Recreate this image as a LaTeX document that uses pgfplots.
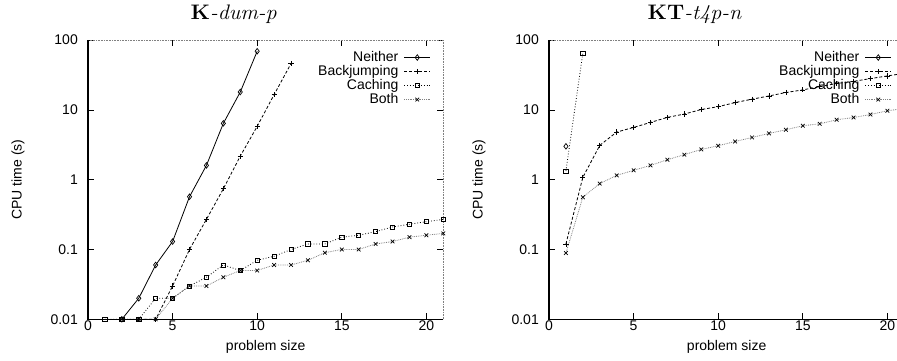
\documentclass[border=0pt]{standalone}
\usepackage{fontspec}
\setsansfont{Liberation Sans}
\usepackage{graphicx}
\usepackage{pgfplots}
\pgfplotsset{compat=1.18}
\pgfplotsset{
  legend image code/.code={\draw[mark repeat=2,mark phase=2,#1] plot coordinates {(0pt,0pt) (13pt,0pt) (26pt,0pt)};},
  pNeither/.style={black, solid, line width=0.8pt, mark=diamond, mark size=2.8pt, mark options={solid, line width=0.7pt}},
  pBackj/.style={black, densely dashed, line width=0.8pt, mark=+, mark size=2.6pt, mark options={solid, line width=0.7pt}},
  pCaching/.style={black, dotted, line width=0.8pt, mark=square, mark size=2.1pt, mark options={solid, line width=0.7pt}},
  pBoth/.style={gray, densely dotted, line width=0.8pt, mark=x, mark size=2.6pt, mark options={solid, black, line width=0.7pt}},
}
\newcommand{\gpframe}{%
  \draw[gray, densely dotted, line width=0.6pt] (rel axis cs:0,1) -- (rel axis cs:1,1) -- (rel axis cs:1,0);
  \draw[black, line width=1.3pt] (rel axis cs:0,1) -- (rel axis cs:0,0) -- (rel axis cs:1,0);
}
\begin{document}
\begin{tikzpicture}
\begin{axis}[at={(88pt,41.7pt)}, anchor=south west,
    scale only axis, width=355.3pt, height=279.3pt,
    ymode=log, log basis y=10,
    xmin=0, xmax=21, ymin=0.01, ymax=100,
    xtick={0,5,10,15,20},
    ytick={0.01,0.1,1,10,100},
    yticklabels={0.01,0.1,1,10,100},
    font=\fontsize{14}{16}\selectfont\sffamily,
    tick align=inside,
    major tick length=6pt, minor tick length=3pt,
    every tick/.style={black, line width=0.6pt},
    xticklabel style={inner sep=1.5pt, /pgf/number format/assume math mode=true},
    yticklabel style={inner sep=0pt, xshift=-10pt},
    axis line style={draw=none},
    clip=false,
    xlabel={problem size}, ylabel={CPU time (s)},
    xlabel style={at={(axis description cs:0.5,-0.099)}, anchor=center},
    ylabel style={at={(axis description cs:-0.197,0.5)}, anchor=center, rotate=0},
    title style={at={(axis description cs:0.41,1.0537)}, anchor=base, font=\rmfamily\fontsize{21}{23}\selectfont},
    legend plot pos=right,
    legend cell align=right,
    legend style={at={(axis description cs:0.965,0.963)}, anchor=north east, draw=none, fill=none,
      inner sep=0pt, column sep=5pt, row sep=0pt,
      nodes={text height=10pt, text depth=3pt, inner sep=0.5pt}},
  title={\scalebox{1.05}[1]{\textbf{K}\textit{-dum-p}}}]
\addplot[pNeither] coordinates {(2,0.01) (3,0.02) (4,0.06) (5,0.13) (6,0.57) (7,1.6) (8,6.4) (9,18) (10,69)};
\addlegendentry{Neither}
\addplot[pBackj] coordinates {(3,0.01) (4,0.01) (5,0.03) (6,0.1) (7,0.27) (8,0.74) (9,2.17) (10,5.8) (11,16.5) (12,46)};
\addlegendentry{Backjumping}
\addplot[pCaching] coordinates {(1,0.01) (2,0.01) (3,0.01) (4,0.02) (5,0.02) (6,0.03) (7,0.04) (8,0.06) (9,0.05) (10,0.07) (11,0.08) (12,0.1) (13,0.12) (14,0.12) (15,0.15) (16,0.16) (17,0.18) (18,0.21) (19,0.23) (20,0.25) (21,0.27)};
\addlegendentry{Caching}
\addplot[pBoth] coordinates {(2,0.01) (3,0.01) (4,0.01) (5,0.02) (6,0.03) (7,0.03) (8,0.04) (9,0.05) (10,0.05) (11,0.06) (12,0.06) (13,0.07) (14,0.09) (15,0.1) (16,0.1) (17,0.12) (18,0.13) (19,0.15) (20,0.16) (21,0.17)};
\addlegendentry{Both}
\gpframe
\end{axis}
\begin{axis}[at={(549pt,41.7pt)}, anchor=south west,
    scale only axis, width=355.3pt, height=279.3pt,
    ymode=log, log basis y=10,
    xmin=0, xmax=21, ymin=0.01, ymax=100,
    xtick={0,5,10,15,20},
    ytick={0.01,0.1,1,10,100},
    yticklabels={0.01,0.1,1,10,100},
    font=\fontsize{14}{16}\selectfont\sffamily,
    tick align=inside,
    major tick length=6pt, minor tick length=3pt,
    every tick/.style={black, line width=0.6pt},
    xticklabel style={inner sep=1.5pt, /pgf/number format/assume math mode=true},
    yticklabel style={inner sep=0pt, xshift=-10pt},
    axis line style={draw=none},
    clip=false,
    xlabel={problem size}, ylabel={CPU time (s)},
    xlabel style={at={(axis description cs:0.5,-0.099)}, anchor=center},
    ylabel style={at={(axis description cs:-0.197,0.5)}, anchor=center, rotate=0},
    title style={at={(axis description cs:0.41,1.0537)}, anchor=base, font=\rmfamily\fontsize{21}{23}\selectfont},
    legend plot pos=right,
    legend cell align=right,
    legend style={at={(axis description cs:0.965,0.963)}, anchor=north east, draw=none, fill=none,
      inner sep=0pt, column sep=5pt, row sep=0pt,
      nodes={text height=10pt, text depth=3pt, inner sep=0.5pt}},
  title={\scalebox{1.05}[1]{\textbf{KT}\textit{-t4p-n}}}]
\addplot[pNeither] coordinates {(1,3.0)};
\addlegendentry{Neither}
\addplot[pBackj] coordinates {(1,0.12) (2,1.08) (3,3.1) (4,4.8) (5,5.6) (6,6.6) (7,7.8) (8,8.7) (9,10.1) (10,11.1) (11,12.7) (12,14.2) (13,15.8) (14,17.7) (15,19.3) (16,21.5) (17,23.8) (18,25.6) (19,28) (20,30.6) (21,33.3)};
\addlegendentry{Backjumping}
\addplot[pCaching] coordinates {(1,1.33) (2,65)};
\addlegendentry{Caching}
\addplot[pBoth] coordinates {(1,0.089) (2,0.56) (3,0.88) (4,1.15) (5,1.36) (6,1.6) (7,1.93) (8,2.28) (9,2.71) (10,3.06) (11,3.52) (12,4.02) (13,4.59) (14,5.18) (15,5.91) (16,6.31) (17,7.2) (18,7.76) (19,8.57) (20,9.68) (21,10.5)};
\addlegendentry{Both}
\gpframe
\end{axis}
\pgfresetboundingbox
\path (0pt,0pt) rectangle (897pt,361pt);
\end{tikzpicture}
\end{document}
